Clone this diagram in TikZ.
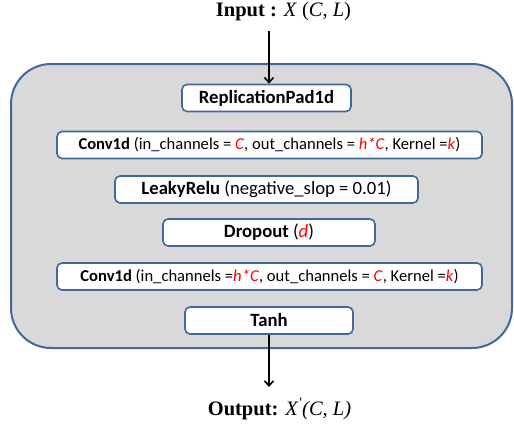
\documentclass[tikz,border=0pt]{standalone}
\usepackage{fontspec}
\setmainfont{Carlito}
\newfontfamily\serifrm{Liberation Serif}
\usetikzlibrary{arrows.meta}
\definecolor{frameblue}{HTML}{41689A}
\definecolor{panelgray}{HTML}{D9D9D9}
\newcommand{\hl}[1]{\textcolor{red}{\textit{#1}}}
\tikzset{
  layerbox/.style={draw=frameblue, line width=1.6pt, fill=white, rounded corners=5pt,
    minimum height=27pt, inner sep=0pt, font=\fontsize{18.7}{20}\selectfont},
  convbox/.style={layerbox, font=\fontsize{16.6}{18}\selectfont},
  flow/.style={draw=black, line width=1.6pt, -{Straight Barb[length=5pt,width=9pt,line width=1.6pt]}},
  iolabel/.style={font=\serifrm\fontsize{20.5}{22}\selectfont, inner sep=0pt}
}
\begin{document}
\begin{tikzpicture}[x=1pt,y=-1pt]
\useasboundingbox (0,0) rectangle (514,429);
% surrounding panel
\draw[frameblue, line width=2pt, fill=panelgray, rounded corners=40pt] (11,64) rectangle (512,348);
% layers
\node[layerbox, minimum width=169pt] (pad) at (266.5,98) {\textbf{ReplicationPad1d}};
\node[convbox, minimum width=425pt] (conva) at (269.5,145) {\textbf{Conv1d} (in\_channels = \hl{C}, out\_channels = \hl{h*C}, Kernel =\hl{k})};
\node[layerbox, minimum width=303pt] (relu) at (266.5,189.5) {\textbf{LeakyRelu} (negative\_slop = 0.01)};
\node[layerbox, minimum width=212pt] (drop) at (269,232.5) {\textbf{Dropout} (\hl{d})};
\node[convbox, minimum width=425pt] (convb) at (269.5,276.5) {\textbf{Conv1d} (in\_channels =\hl{h*C}, out\_channels = \hl{C}, Kernel =\hl{k})};
\node[layerbox, minimum width=168pt] (tanh) at (269,320.5) {\textbf{Tanh}};
% input / output
\node[iolabel] (inp) at (283.5,12) {\textbf{Input :} \textit{X} (\textit{C}, \textit{L})};
\node[iolabel] (outp) at (279.5,409) {\textbf{Output:} \textit{X}\textsuperscript{\textit{'}}\textit{(C, L)}};
\coordinate (instart) at (269,31);
\coordinate (outend) at (269,387);
\draw[flow] (instart) -- (instart |- pad.north);
\draw[flow] (tanh.south) -- (outend);
\end{tikzpicture}
\end{document}
